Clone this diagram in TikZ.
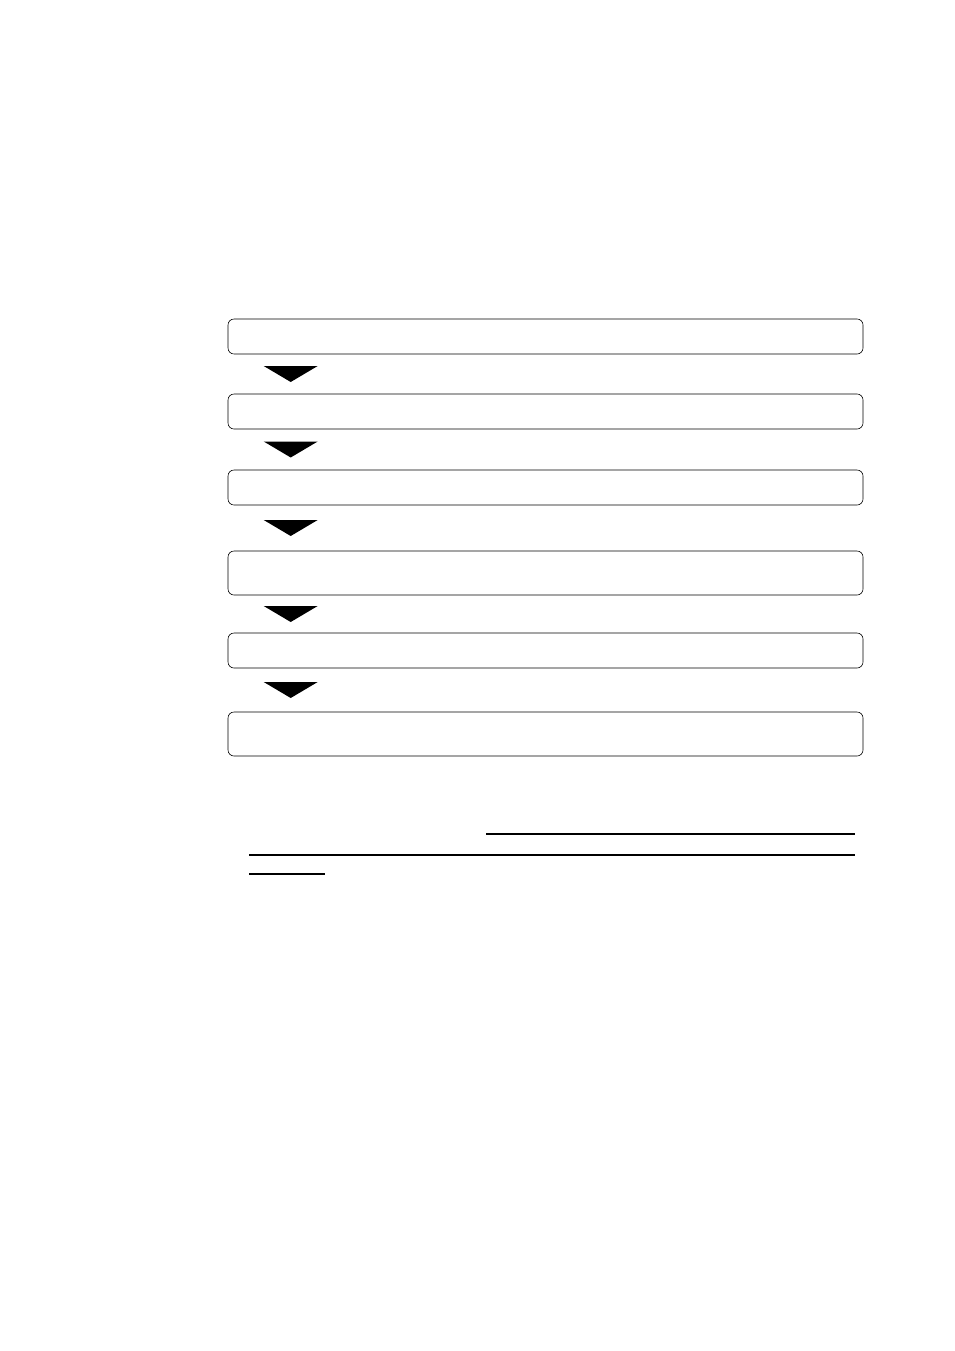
\documentclass[tikz,border=0pt]{standalone}
\usetikzlibrary{calc}

\tikzset{
	stepbox/.style={draw, rounded corners=1.8mm, line width=0.5pt, inner sep=0pt,
		minimum width=190.5mm, minimum height=10.5mm},
	tallbox/.style={stepbox, minimum height=13.2mm},
	blankline/.style={line width=0.9pt}
}

\begin{document}
\begin{tikzpicture}[x=0.3mm, y=-0.3mm]
		\useasboundingbox (0,0) rectangle (954,1351);

		\node[stepbox] (s1) at (545.5,336.5) {};
		\node[stepbox] (s2) at (545.5,411.5) {};
		\node[stepbox] (s3) at (545.5,487.5) {};
		\node[tallbox] (s4) at (545.5,573.0) {};
		\node[stepbox] (s5) at (545.5,650.5) {};
		\node[tallbox] (s6) at (545.5,734.0) {};

		\foreach \a/\b in {s1/s2, s2/s3, s3/s4, s4/s5, s5/s6}
			\fill ($(\a.south west)!0.5!(\b.north west) + (36,-8)$) --
			++ (54,0) --
			++ (-27,16) --
			cycle;

		\draw[blankline] (486,834) -- (855,834);
		\draw[blankline] (249,855) -- (855,855);
		\draw[blankline] (249,874) -- (325,874);
	\end{tikzpicture}
\end{document}
